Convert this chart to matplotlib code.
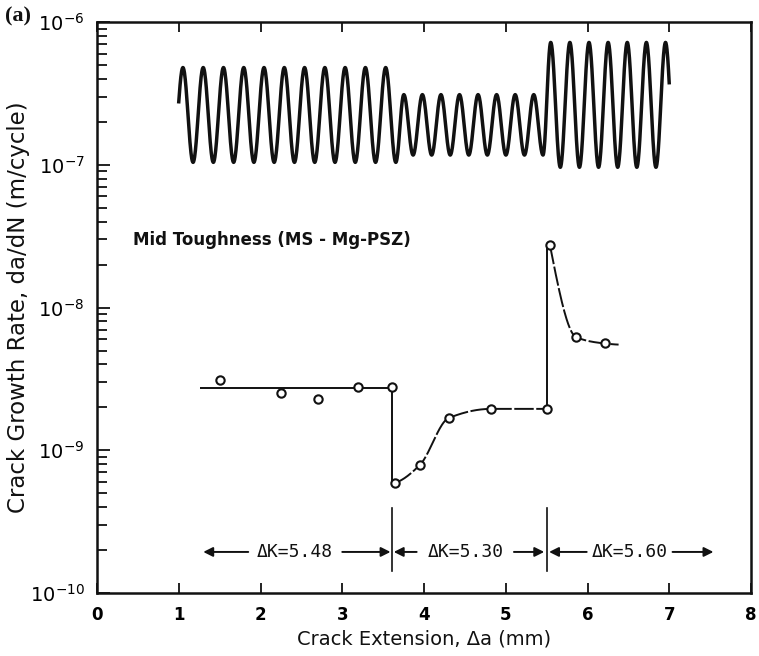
import numpy as np
import matplotlib
matplotlib.use("Agg")
import matplotlib.pyplot as plt
from matplotlib.ticker import LogLocator, NullLocator, FixedLocator

# ---- measured crack growth rates (crack extension in mm, da/dN in m/cycle) ----
blk1_x = [1.50, 2.25, 2.70, 3.19, 3.61]
blk1_y = [3.1e-9, 2.5e-9, 2.3e-9, 2.76e-9, 2.76e-9]
blk1_fit_x = [1.26, 3.61]
blk1_fit_y = [2.72e-9, 2.72e-9]

blk2_x = [3.64, 3.95, 4.30, 4.82, 5.50]
blk2_y = [5.9e-10, 7.9e-10, 1.68e-9, 1.95e-9, 1.95e-9]

blk3_x = [5.54, 5.86, 6.21]
blk3_y = [2.74e-8, 6.2e-9, 5.6e-9]
blk3_fit_x = [5.54, 5.86, 6.21, 6.38]
blk3_fit_y = [2.74e-8, 6.2e-9, 5.6e-9, 5.5e-9]

# block boundaries (mm) and stress intensity ranges
step_x = [3.61, 5.50]
dk_labels = ["\u0394K=5.48", "\u0394K=5.30", "\u0394K=5.60"]

# schematic loading waveform: one entry per ΔK block
wave_first_peak = [1.051, 3.753, 5.550]
wave_period = [0.248, 0.227, 0.234]
wave_n_peaks = [11, 8, 7]
wave_high = [4.8e-7, 3.1e-7, 7.2e-7]
wave_low = [1.04e-7, 1.17e-7, 0.96e-7]
wave_span = (1.0, 7.0)

x_ticks = [0, 1, 2, 3, 4, 5, 6, 7, 8]
y_ticks = [1e-10, 1e-9, 1e-8, 1e-7, 1e-6]
y_ticklabels = [r"$\mathregular{10^{-10}}$", r"$\mathregular{10^{-9}}$",
                r"$\mathregular{10^{-8}}$", r"$\mathregular{10^{-7}}$",
                r"$\mathregular{10^{-6}}$"]


def pchip(x, y, xn):
    """Monotone cubic (Fritsch-Carlson) curve through the given points."""
    x = np.asarray(x, float)
    y = np.asarray(y, float)
    xn = np.asarray(xn, float)
    h = np.diff(x)
    d = np.diff(y) / h
    n = len(x)
    m = np.zeros(n)
    for i in range(1, n - 1):
        if d[i - 1] * d[i] > 0:
            w1 = 2 * h[i] + h[i - 1]
            w2 = h[i] + 2 * h[i - 1]
            m[i] = (w1 + w2) / (w1 / d[i - 1] + w2 / d[i])

    def end_slope(h0, h1, d0, d1):
        s = ((2 * h0 + h1) * d0 - h0 * d1) / (h0 + h1)
        if np.sign(s) != np.sign(d0):
            return 0.0
        if np.sign(d0) != np.sign(d1) and abs(s) > abs(3 * d0):
            return 3 * d0
        return s

    if n > 2:
        m[0] = end_slope(h[0], h[1], d[0], d[1])
        m[-1] = end_slope(h[-1], h[-2], d[-1], d[-2])
    else:
        m[:] = d[0]
    idx = np.clip(np.searchsorted(x, xn) - 1, 0, n - 2)
    t = (xn - x[idx]) / h[idx]
    h00 = 2 * t**3 - 3 * t**2 + 1
    h10 = t**3 - 2 * t**2 + t
    h01 = -2 * t**3 + 3 * t**2
    h11 = t**3 - t**2
    return (h00 * y[idx] + h10 * h[idx] * m[idx]
            + h01 * y[idx + 1] + h11 * h[idx] * m[idx + 1])


def log_curve(xs, ys, num=200):
    xn = np.linspace(xs[0], xs[-1], num)
    return xn, 10 ** pchip(xs, np.log10(ys), xn)


def waveform():
    """Extrema of the cyclic load joined by half-cosine arcs (log scale)."""
    ex, ey = [], []
    for b in range(len(wave_first_peak)):
        fp, per = wave_first_peak[b], wave_period[b]
        lo, hi = np.log10(wave_low[b]), np.log10(wave_high[b])
        for k in range(wave_n_peaks[b]):
            xp = fp + k * per
            if b == 0 and k == 0:
                ex.append(xp - per / 2)
                ey.append(lo)
            ex.append(xp)
            ey.append(hi)
            ex.append(xp + per / 2)
            ey.append(lo)
    xs, ys = [], []
    t = np.linspace(0, 1, 40)
    for i in range(len(ex) - 1):
        xs.append(ex[i] + (ex[i + 1] - ex[i]) * t)
        ys.append(ey[i] + (ey[i + 1] - ey[i]) * (1 - np.cos(np.pi * t)) / 2)
    xs = np.concatenate(xs)
    ys = np.concatenate(ys)
    keep = (xs >= wave_span[0]) & (xs <= wave_span[1])
    return xs[keep], 10 ** ys[keep]


fig = plt.figure(figsize=(7.59, 6.56), dpi=100)
ax = fig.add_axes([0.1278, 0.0960, 0.8617, 0.8704])
ax.set_yscale("log")
ax.set_xlim(0, 8)
ax.set_ylim(1e-10, 1e-6)

ink = "#111111"
line_kw = dict(color=ink, lw=1.4, solid_capstyle="butt")
mark_kw = dict(ls="none", marker="o", ms=6, mfc="white", mec=ink, mew=1.5, zorder=5)
curve_ls = (0, (10, 1.3))

# loading waveform
wx, wy = waveform()
ax.plot(wx, wy, color=ink, lw=2.5, solid_joinstyle="round")

# block 1: constant-rate trend
ax.plot(blk1_fit_x, blk1_fit_y, **line_kw)
ax.plot([step_x[0], step_x[0]], [blk1_fit_y[-1], blk2_y[0]], **line_kw)
ax.plot(blk1_x, blk1_y, **mark_kw)

# block 2: transient after load drop
cx, cy = log_curve(blk2_x, blk2_y)
ax.plot(cx, cy, color=ink, lw=1.4, ls=curve_ls)
ax.plot([step_x[1], step_x[1]], [blk2_y[-1], blk3_y[0]], **line_kw)
ax.plot(blk2_x, blk2_y, **mark_kw)

# block 3: transient after load rise
cx, cy = log_curve(blk3_fit_x, blk3_fit_y)
ax.plot(cx, cy, color=ink, lw=1.4, ls=curve_ls)
ax.plot(blk3_x, blk3_y, **mark_kw)

# ΔK block markers along the bottom
arrow_y = 1.94e-10
for xs in step_x:
    ax.plot([xs, xs], [1.43e-10, 3.94e-10], color=ink, lw=1.2)

arrows = [(1.85, 1.30), (3.00, 3.59), (3.91, 3.63), (5.10, 5.47),
          (5.99, 5.53), (7.04, 7.54)]
for tail, tip in arrows:
    ax.annotate("", xy=(tip, arrow_y), xytext=(tail, arrow_y),
                arrowprops=dict(arrowstyle="-|>", color=ink, lw=1.4,
                                mutation_scale=14, shrinkA=0, shrinkB=0))
for xc, lab in zip([2.42, 4.51, 6.52], dk_labels):
    ax.text(xc, arrow_y, lab, ha="center", va="center",
            family="DejaVu Sans Mono", fontsize=13, color=ink)

ax.text(0.44, 2.95e-8, "Mid Toughness (MS - Mg-PSZ)", ha="left", va="center",
        family="DejaVu Sans", fontweight="bold", fontsize=12, color=ink)

# axes styling
for side in ["left", "bottom", "top", "right"]:
    ax.spines[side].set_linewidth(1.8)
    ax.spines[side].set_color(ink)

ax.xaxis.set_major_locator(FixedLocator(x_ticks))
ax.xaxis.set_minor_locator(NullLocator())
ax.set_xticklabels([str(v) for v in x_ticks], family="DejaVu Sans",
                   fontweight="bold", fontsize=12)
ax.set_yticks(y_ticks)
ax.set_yticklabels(y_ticklabels, family="DejaVu Sans", fontsize=14)
ax.yaxis.set_minor_locator(LogLocator(base=10, subs=range(2, 10)))
ax.tick_params(axis="both", which="both", direction="in", color=ink, width=1.3)
ax.tick_params(axis="x", which="major", length=7, top=True, pad=9)
ax.tick_params(axis="y", which="major", length=9, right=False, pad=9)
ax.tick_params(axis="y", which="minor", length=7, right=False)

ax.set_xlabel("Crack Extension, \u0394a (mm)", family="DejaVu Sans",
              fontsize=14, labelpad=4, color=ink)
ax.set_ylabel("Crack Growth Rate, da/dN (m/cycle)", family="DejaVu Sans",
              fontsize=16.5, labelpad=6, color=ink)
ax.yaxis.set_label_coords(-0.102, 0.5)

fig.text(0.006, 0.990, "(a)", ha="left", va="top", family="Liberation Serif",
         fontweight="bold", fontsize=16, color=ink)

fig.savefig("out.png", dpi=100)
